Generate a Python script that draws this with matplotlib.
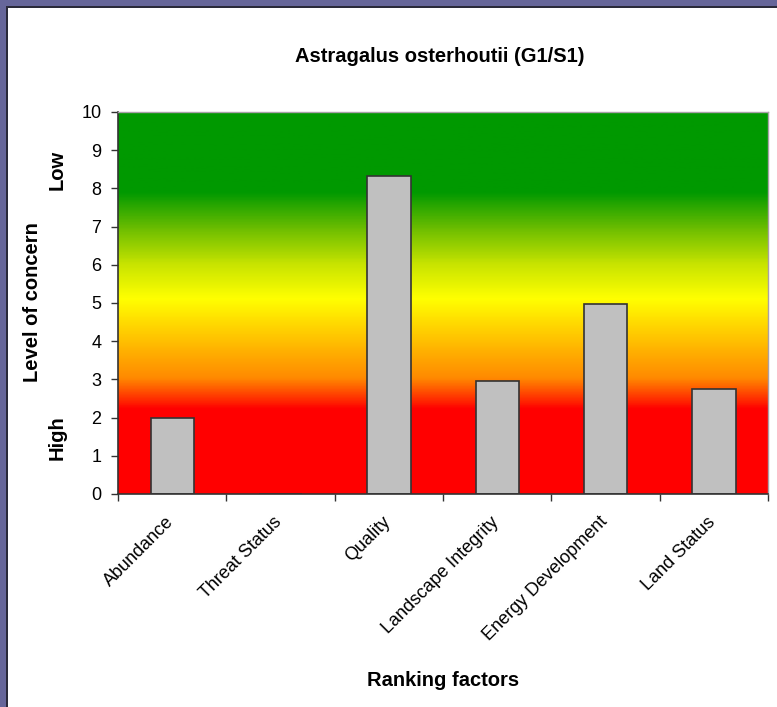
import numpy as np
import matplotlib
matplotlib.use('Agg')
import matplotlib.pyplot as plt
import matplotlib.transforms as mtransforms
from matplotlib.colors import LinearSegmentedColormap
from matplotlib.patches import Rectangle

plt.rcParams['font.family'] = ['Liberation Sans', 'DejaVu Sans']

# Dados
fatores = ['Abundance', 'Threat Status', 'Quality', 'Landscape Integrity',
           'Energy Development', 'Land Status']
valores = [2.0, 0.0, 8.33, 2.97, 4.97, 2.76]
y_ticks = list(range(0, 11))

# Gradiente do fundo (nível -> cor)
niveis = [0.0, 2.2, 2.5, 3.0, 4.0, 5.1, 6.0, 7.0, 7.9, 10.0]
cores = ['#ff0000', '#ff0000', '#ff3300', '#ff8800', '#ffc000', '#ffff00',
         '#c8e400', '#66bb00', '#009900', '#009900']
cmap = LinearSegmentedColormap.from_list('conc', list(zip([n / 10 for n in niveis], cores)))

fig = plt.figure(figsize=(7.77, 7.07), dpi=100)
fig.patch.set_facecolor('white')

# Moldura roxa (esquerda e topo)
fig.patches.append(Rectangle((0, 0), 6 / 777, 1, transform=fig.transFigure,
                             facecolor='#66669a', edgecolor='none', zorder=0))
fig.patches.append(Rectangle((0, 1 - 6 / 707), 1, 6 / 707, transform=fig.transFigure,
                             facecolor='#66669a', edgecolor='none', zorder=0))
fig.patches.append(Rectangle((6 / 777, 0), 1.5 / 777, 1 - 6 / 707, transform=fig.transFigure,
                             facecolor='#2a2a3a', edgecolor='none', zorder=0))
fig.patches.append(Rectangle((6 / 777, 1 - 7.5 / 707), 1, 1.5 / 707, transform=fig.transFigure,
                             facecolor='#2a2a3a', edgecolor='none', zorder=0))

ax = fig.add_axes([118 / 777, 213 / 707, 650 / 777, 382 / 707])

x = np.arange(len(fatores))
grad = np.linspace(0, 1, 500).reshape(-1, 1)
ax.imshow(grad, cmap=cmap, origin='lower', aspect='auto',
          extent=[-0.5, len(fatores) - 0.5, 0, 10], zorder=0)

ax.bar(x, valores, width=0.4, color='#c0c0c0', edgecolor='#333333', linewidth=1.2, zorder=2)

ax.set_xlim(-0.5, len(fatores) - 0.5)
ax.set_ylim(0, 10)
ax.set_yticks(y_ticks)
ax.set_yticklabels([str(v) for v in y_ticks], fontsize=13)
ax.set_xticks(np.arange(len(fatores) + 1) - 0.5)
ax.set_xticklabels([])
ax.set_xticks(x, minor=True)
ax.set_xticklabels(fatores, minor=True, rotation=45, ha='right',
                   rotation_mode='anchor', fontsize=13)
ax.tick_params(axis='x', which='minor', length=0, pad=14)
ax.tick_params(axis='both', which='major', direction='out', length=5,
               width=1, color='#333333')
ax.tick_params(axis='y', pad=7)

# desloca os rótulos um pouco para a esquerda
desloc = mtransforms.ScaledTranslation(-7 / 100, 0, fig.dpi_scale_trans)
for lbl in ax.get_xticklabels(minor=True):
    lbl.set_transform(lbl.get_transform() + desloc)

for lado in ['left', 'bottom']:
    ax.spines[lado].set_color('#333333')
    ax.spines[lado].set_linewidth(1.2)
for lado in ['top', 'right']:
    ax.spines[lado].set_color('#a8a0a8')
    ax.spines[lado].set_linewidth(1)

# Textos
negrito = dict(fontsize=14.5, fontweight='bold', ha='center', va='center')
fig.text(440 / 777, 1 - 57 / 707, 'Astragalus osterhoutii (G1/S1)', **negrito)
fig.text(33 / 777, 1 - 302 / 707, 'Level of concern', rotation=90, **negrito)
fig.text(57 / 777, 1 - 170 / 707, 'Low', rotation=90, **negrito)
fig.text(57 / 777, 1 - 438 / 707, 'High', rotation=90, **negrito)
fig.text(443 / 777, 1 - 680 / 707, 'Ranking factors', **negrito)

fig.savefig('out.png', dpi=100)
